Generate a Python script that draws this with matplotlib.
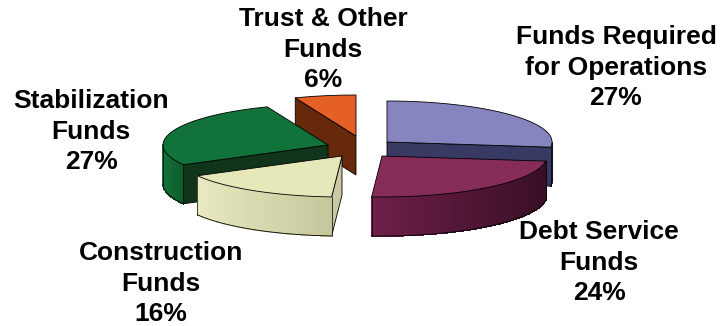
import numpy as np
import matplotlib

matplotlib.use("Agg")
import matplotlib.pyplot as plt
from matplotlib.colors import to_rgb
from matplotlib.patches import Polygon

names = ["Funds Required\nfor Operations", "Debt Service\nFunds", "Construction\nFunds",
         "Stabilization\nFunds", "Trust & Other\nFunds"]
shares = [27, 24, 16, 27, 6]

apex_x = [387, 382, 342, 328, 356]
apex_y = [142, 156, 156, 145, 136]
top_colors = ["#8785bf", "#862c58", "#e6e8ba", "#117339", "#e46024"]
wall_from = ["#383a63", "#6e1f49", "#e8e9c0", "#14703a", "#66290c"]
wall_to = ["#383a63", "#380f25", "#c6c69c", "#0d5a2c", "#66290c"]
cut_colors = ["#383a63", "#380f25", "#c9c9a2", "#10351a", "#66290c"]
# which straight edge of each slice shows its cut wall
cut_edge = ["end", None, "start", "start", "start"]
draw_order = [4, 3, 0, 2, 1]

# label anchors sit on the baseline of the last line
label_x = [616, 599, 161, 91, 323]
label_y = [105, 300, 321, 169, 87]

RX, RY, DEPTH = 165, 41, 39


def rim(cx, cy, t):
    return cx + RX * np.sin(t), cy - RY * np.cos(t)


def draw_slice(ax, idx, start, stop):
    cx, cy = apex_x[idx], apex_y[idx]
    ts = np.linspace(start, stop, 80)
    xs, ys = rim(cx, cy, ts)

    if cut_edge[idx]:
        t = start if cut_edge[idx] == "start" else stop
        ex, ey = rim(cx, cy, t)
        ax.add_patch(Polygon([(cx, cy), (ex, ey), (ex, ey + DEPTH), (cx, cy + DEPTH)],
                             facecolor=cut_colors[idx], edgecolor="black", linewidth=0.6))

    # curved wall, only the part of the rim that faces the viewer
    lo, hi = max(start, np.pi / 2), min(stop, 3 * np.pi / 2)
    if lo < hi:
        tw = np.linspace(lo, hi, 70)
        wx, wy = rim(cx, cy, tw)
        c0, c1 = np.array(to_rgb(wall_from[idx])), np.array(to_rgb(wall_to[idx]))
        left, right = wx.min(), wx.max()
        for i in range(len(tw) - 1):
            mix = ((wx[i] + wx[i + 1]) / 2 - left) / max(right - left, 1)
            col = c0 + (c1 - c0) * mix
            ax.add_patch(Polygon([(wx[i], wy[i]), (wx[i + 1], wy[i + 1]),
                                  (wx[i + 1], wy[i + 1] + DEPTH), (wx[i], wy[i] + DEPTH)],
                                 facecolor=col, edgecolor=col, linewidth=0.5, antialiased=False))
        ax.plot(wx, wy + DEPTH, color="black", lw=0.6)
        ax.plot([wx[0], wx[0]], [wy[0], wy[0] + DEPTH], color="black", lw=0.5)
        ax.plot([wx[-1], wx[-1]], [wy[-1], wy[-1] + DEPTH], color="black", lw=0.5)

    outline = np.column_stack([np.r_[cx, xs], np.r_[cy, ys]])
    ax.add_patch(Polygon(outline, facecolor=top_colors[idx], edgecolor="black", linewidth=0.6))


fig = plt.figure(figsize=(7.2, 3.26), dpi=100)
ax = fig.add_axes([0, 0, 1, 1])
ax.set_xlim(0, 720)
ax.set_ylim(326, 0)
ax.axis("off")

edges = np.r_[0, np.cumsum(shares)] / sum(shares) * 2 * np.pi
for i in draw_order:
    draw_slice(ax, i, edges[i], edges[i + 1])

for i, name in enumerate(names):
    ax.text(label_x[i], label_y[i], f"{name}\n{shares[i]}%", ha="center", va="baseline",
            fontsize=19, fontweight="bold", family="Liberation Sans",
            linespacing=1.33, color="black")

fig.savefig("out.png", dpi=100, facecolor="white")
